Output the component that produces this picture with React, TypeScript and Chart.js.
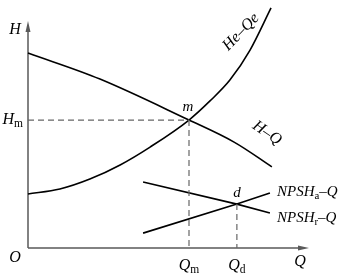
import React, { useEffect, useRef } from "react";
import { Chart, registerables } from "chart.js";

Chart.register(...registerables);

// Q values (x) and H values (y) on a 0..100 scale
const hqQ = [0, 25.7, 57.5, 73.6, 87.1];
const hqH = [78.6, 68.1, 51.6, 42.7, 32.7];

const heQ = [0, 11.4, 22.1, 32.9, 43.6, 57.5, 65.0, 72.1, 79.3, 86.8];
const heH = [21.8, 23.8, 27.8, 33.5, 40.7, 51.6, 59.3, 67.7, 79.8, 96.8];

const npshaQ = [41.1, 74.6, 86.4];
const npshaH = [6.0, 17.7, 22.2];

const npshrQ = [41.1, 74.6, 86.4];
const npshrH = [26.6, 17.7, 14.1];

const Qm = 57.5;
const Hm = 51.6;
const Qd = 74.6;
const Hd = 17.7;

const curveLabels = ["He–Qe", "H–Q"];
const npshLabels = [["NPSH", "a", "–Q"], ["NPSH", "r", "–Q"]];
const qTickLabels = [["Q", "m"], ["Q", "d"]];
const hTickLabel = ["H", "m"];

const pts = (xs: number[], ys: number[]) => xs.map((x, i) => ({ x, y: ys[i] }));

const FONT = '"Liberation Serif", "Times New Roman", serif';

export default function App() {
  const ref = useRef<HTMLCanvasElement | null>(null);
  useEffect(() => {
    if (!ref.current) return;
    const axisColor = "#5a5a5a";
    const decor = {
      id: "decor",
      beforeDatasetsDraw(chart: any) {
        const { ctx } = chart;
        const xs = chart.scales.x;
        const ys = chart.scales.y;
        const x0 = xs.getPixelForValue(0);
        const y0 = ys.getPixelForValue(0);
        ctx.save();
        ctx.strokeStyle = axisColor;
        ctx.fillStyle = axisColor;
        ctx.lineWidth = 1.5;
        ctx.beginPath();
        ctx.moveTo(x0, y0);
        ctx.lineTo(x0, 26);
        ctx.moveTo(x0, y0);
        ctx.lineTo(304, y0);
        ctx.stroke();
        ctx.beginPath();
        ctx.moveTo(x0, 21);
        ctx.lineTo(x0 - 2.5, 32);
        ctx.lineTo(x0 + 2.5, 32);
        ctx.closePath();
        ctx.fill();
        ctx.beginPath();
        ctx.moveTo(309, y0);
        ctx.lineTo(298, y0 - 2.5);
        ctx.lineTo(298, y0 + 2.5);
        ctx.closePath();
        ctx.fill();
        ctx.restore();
      },
      afterDatasetsDraw(chart: any) {
        const { ctx } = chart;
        const xs = chart.scales.x;
        const ys = chart.scales.y;
        const px = (v: number) => xs.getPixelForValue(v);
        const py = (v: number) => ys.getPixelForValue(v);
        ctx.save();
        ctx.fillStyle = "#000";
        ctx.textBaseline = "middle";
        const it = (s: number) => `italic ${s}px ${FONT}`;
        const up = (s: number) => `${s}px ${FONT}`;
        const sub = (main: string, subs: string, x: number, y: number, size: number, tail = "") => {
          ctx.font = it(size);
          ctx.textAlign = "left";
          ctx.fillText(main, x, y);
          let w = ctx.measureText(main).width;
          ctx.font = up(size * 0.72);
          ctx.fillText(subs, x + w, y + size * 0.25);
          w += ctx.measureText(subs).width;
          if (tail) {
            ctx.font = it(size);
            ctx.fillText(tail, x + w, y);
          }
        };
        const measureSub = (main: string, subs: string, size: number) => {
          ctx.font = it(size);
          let w = ctx.measureText(main).width;
          ctx.font = up(size * 0.72);
          w += ctx.measureText(subs).width;
          return w;
        };
        ctx.font = it(16);
        ctx.textAlign = "center";
        ctx.fillText("H", 15, 30);
        ctx.fillText("O", 15, 258);
        ctx.fillText("Q", 300, 262);
        const hw = measureSub(hTickLabel[0], hTickLabel[1], 16);
        sub(hTickLabel[0], hTickLabel[1], 23 - hw, py(Hm), 16);
        const qs = [Qm, Qd];
        qTickLabels.forEach((l, i) => {
          const w = measureSub(l[0], l[1], 16);
          sub(l[0], l[1], px(qs[i]) - w / 2, 266, 16);
        });
        ctx.font = it(15);
        ctx.textAlign = "center";
        ctx.fillText("m", px(Qm) - 1, py(Hm) - 13);
        ctx.fillText("d", px(Qd), py(Hd) - 11);
        ctx.save();
        ctx.translate(241, 32);
        ctx.rotate(-0.8);
        ctx.font = it(16);
        ctx.textAlign = "center";
        ctx.fillText(curveLabels[0], 0, 0);
        ctx.restore();
        ctx.save();
        ctx.translate(267, 133);
        ctx.rotate(0.6);
        ctx.font = it(16);
        ctx.textAlign = "center";
        ctx.fillText(curveLabels[1], 0, 0);
        ctx.restore();
        sub(npshLabels[0][0], npshLabels[0][1], 277, 192, 15, npshLabels[0][2]);
        sub(npshLabels[1][0], npshLabels[1][1], 277, 218, 15, npshLabels[1][2]);
        ctx.restore();
      },
    };
    const solid = (data: any, extra: any = {}) => ({
      data,
      borderColor: "#000",
      borderWidth: 1.6,
      pointRadius: 0,
      fill: false,
      clip: false as any,
      ...extra,
    });
    const dashed = (data: any) => ({
      data,
      borderColor: "#666",
      borderWidth: 1.2,
      borderDash: [6, 4],
      pointRadius: 0,
      fill: false,
      tension: 0,
    });
    const chart = new Chart(ref.current, {
      type: "line",
      data: {
        datasets: [
          dashed([{ x: 0, y: Hm }, { x: Qm, y: Hm }]),
          dashed([{ x: Qm, y: Hm }, { x: Qm, y: 0 }]),
          dashed([{ x: Qd, y: Hd }, { x: Qd, y: 0 }]),
          solid(pts(hqQ, hqH), { tension: 0.35 }),
          solid(pts(heQ, heH), { cubicInterpolationMode: "monotone" }),
          solid(pts(npshaQ, npshaH), { tension: 0 }),
          solid(pts(npshrQ, npshrH), { tension: 0 }),
        ] as any,
      },
      options: {
        animation: false,
        responsive: true,
        maintainAspectRatio: false,
        layout: { padding: { left: 28, right: 42, top: 0, bottom: 28 } },
        scales: {
          x: { type: "linear", min: 0, max: 100, display: false },
          y: { type: "linear", min: 0, max: 100, display: false },
        },
        plugins: { legend: { display: false }, tooltip: { enabled: false } },
      },
      plugins: [decor],
    });
    return () => chart.destroy();
  }, []);
  return (
    <div style={{ position: "fixed", left: 0, top: 0, width: 350, height: 276, background: "#fff" }}>
      <canvas ref={ref} />
    </div>
  );
}
